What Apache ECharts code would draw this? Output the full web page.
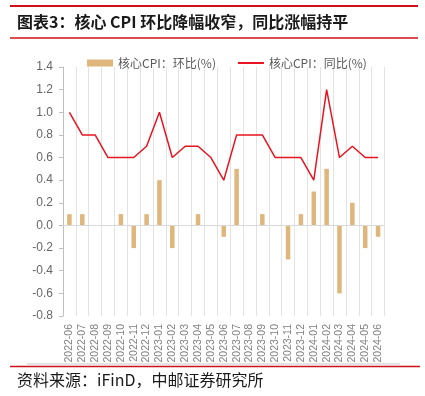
<!DOCTYPE html>
<html>
<head>
<meta charset="utf-8">
<script src="https://cdn.jsdelivr.net/npm/echarts@6/dist/echarts.min.js"></script>
<style>
html,body{margin:0;padding:0;background:#fff;}
#c{width:425px;height:396px;}
</style>
</head>
<body>
<div id="c"></div>
<script>
const categories = ['2022-06','2022-07','2022-08','2022-09','2022-10','2022-11','2022-12','2023-01','2023-02','2023-03','2023-04','2023-05','2023-06','2023-07','2023-08','2023-09','2023-10','2023-11','2023-12','2024-01','2024-02','2024-03','2024-04','2024-05','2024-06'];
const momValues = [0.1,0.1,0,0,0.1,-0.2,0.1,0.4,-0.2,0,0.1,0,-0.1,0.5,0,0.1,0,-0.3,0.1,0.3,0.5,-0.6,0.2,-0.2,-0.1];
const yoyValues = [1.0,0.8,0.8,0.6,0.6,0.6,0.7,1.0,0.6,0.7,0.7,0.6,0.4,0.8,0.8,0.8,0.6,0.6,0.6,0.4,1.2,0.6,0.7,0.6,0.6];
const seriesNames = ['核心CPI：环比(%)','核心CPI：同比(%)'];
const titleText = '图表3：核心 CPI 环比降幅收窄，同比涨幅持平';
const sourceText = '资料来源：iFinD，中邮证券研究所';

const FONT = "'Noto Sans CJK SC', 'Noto Sans', sans-serif";
const chart = echarts.init(document.getElementById('c'), null, {renderer:'canvas'});
chart.setOption({
  animation: false,
  textStyle: {fontFamily: FONT},
  grid: {left: 63, right: 40.5, top: 67, bottom: 80},
  legend: {
    left: 87, top: 57, padding: 0,
    itemGap: 21, itemWidth: 26, itemHeight: 7,
    textStyle: {color: '#595959', fontSize: 12, fontFamily: FONT},
    data: [
      {name: seriesNames[0], icon: 'rect'},
      {name: seriesNames[1], itemStyle: {opacity: 0}}
    ]
  },
  xAxis: {
    type: 'category',
    data: categories,
    boundaryGap: true,
    axisLine: {show: false, onZero: false},
    axisTick: {show: false},
    splitLine: {show: true, lineStyle: {color: '#e3e3e3', width: 1}},
    axisLabel: {rotate: 90, color: '#808080', fontSize: 10.5, margin: 8, interval: 0, fontFamily: 'Liberation Sans, sans-serif'}
  },
  yAxis: {
    type: 'value',
    min: -0.8, max: 1.4, interval: 0.2,
    axisLine: {show: true, lineStyle: {color: '#bfbfbf'}},
    axisTick: {show: true, inside: false, length: 4, lineStyle: {color: '#bfbfbf'}},
    splitLine: {show: false},
    axisLabel: {color: '#666666', fontSize: 12, margin: 10, fontFamily: 'Liberation Sans, sans-serif',
      formatter: v => (Math.round(v*10)/10).toFixed(1)}
  },
  series: [
    {
      name: seriesNames[0], type: 'bar', data: momValues, barWidth: 4.5,
      itemStyle: {color: '#dfb67c'},
      markLine: {
        silent: true, symbol: ['none','none'], label: {show: false},
        lineStyle: {color: '#d9d9d9', type: 'solid', width: 1},
        data: [{yAxis: 0}]
      }
    },
    {
      name: seriesNames[1], type: 'line', data: yoyValues,
      symbol: 'none', lineStyle: {color: '#e8141f', width: 1.5}, itemStyle: {color: '#e8141f'}
    }
  ],
  graphic: [
    {type: 'line', shape: {x1: 10, y1: 6, x2: 418, y2: 6}, style: {stroke: '#d0101b', lineWidth: 2}},
    {type: 'line', shape: {x1: 10, y1: 38, x2: 418, y2: 38}, style: {stroke: '#d0101b', lineWidth: 1.5}},
    {type: 'text', left: 17, top: 14, style: {text: titleText, fontSize: 16, fontWeight: 'bold', fill: '#1a1a1a', fontFamily: FONT}},
    {type: 'line', shape: {x1: 27, y1: 364, x2: 400, y2: 364}, style: {stroke: '#c8c8c8', lineWidth: 1}},
    {type: 'line', shape: {x1: 10, y1: 366.5, x2: 420, y2: 366.5}, style: {stroke: '#d0101b', lineWidth: 1.5}},
    {type: 'text', left: 17, top: 372, style: {text: sourceText, fontSize: 16, fill: '#1a1a1a', fontFamily: FONT}}
  ]
});
</script>
</body>
</html>
